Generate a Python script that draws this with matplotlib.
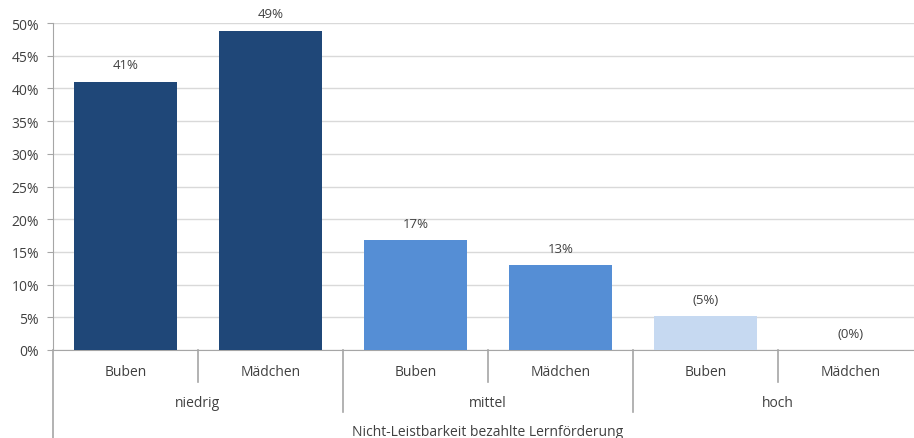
import matplotlib.pyplot as plt
import matplotlib.transforms as mtransforms
import numpy as np

plt.rcParams['font.family'] = ['Open Sans', 'DejaVu Sans']

# Daten
geschlecht = ["Buben", "Mädchen", "Buben", "Mädchen", "Buben", "Mädchen"]
gruppen = ["niedrig", "mittel", "hoch"]
werte = [41.0, 48.8, 16.8, 13.0, 5.2, 0.0]
beschriftung = ["41%", "49%", "17%", "13%", "(5%)", "(0%)"]
farben = ["#1F4778", "#1F4778", "#558ED5", "#558ED5", "#C6D9F1", "#C6D9F1"]
titel = "Nicht-Leistbarkeit bezahlte Lernförderung"

fig = plt.figure(figsize=(9.14, 4.39), dpi=100)
ax = fig.add_axes([53/914, 88/439, 870/914, 327/439])

x = np.arange(len(werte))
ax.bar(x, werte, width=0.71, color=farben, zorder=3)
ax.set_xlim(-0.5, len(werte) - 0.5)
ax.set_ylim(0, 50)
ax.set_yticks(np.arange(0, 51, 5))
ax.set_yticklabels([f"{v}%" for v in range(0, 51, 5)], fontsize=10, color="#404040")
ax.yaxis.grid(True, color="#D9D9D9", linewidth=1, zorder=0)
ax.set_xticks([])
ax.tick_params(axis='y', length=4, color="#A6A6A6", pad=6)

for s in ["top", "right"]:
    ax.spines[s].set_visible(False)
ax.spines["left"].set_color("#A6A6A6")
ax.spines["bottom"].set_color("#A6A6A6")

# Werte über den Balken
for xi, v, t in zip(x, werte, beschriftung):
    ax.text(xi, v + 1.6, t, ha='center', va='bottom', fontsize=9.5, color="#404040")

# Mehrstufige Achsenbeschriftung
trans = mtransforms.blended_transform_factory(ax.transData, ax.transAxes)
for xi, g in zip(x, geschlecht):
    ax.text(xi, -0.067, g, transform=trans, ha='center', va='center', fontsize=10, color="#404040")
for i, g in enumerate(gruppen):
    ax.text(2*i + 0.5, -0.162, g, transform=trans, ha='center', va='center', fontsize=10, color="#404040")
ax.text(2.5, -0.248, titel, transform=trans, ha='center', va='center', fontsize=10, color="#404040")

# Trennlinien
for xs in [0.5, 2.5, 4.5]:
    ax.plot([xs, xs], [0, -0.098], transform=trans, color="#A6A6A6", lw=1.2, clip_on=False)
for xs in [1.5, 3.5]:
    ax.plot([xs, xs], [0, -0.19], transform=trans, color="#A6A6A6", lw=1.2, clip_on=False)
ax.plot([-0.5, -0.5], [0, -0.3], transform=trans, color="#A6A6A6", lw=1.2, clip_on=False)

plt.savefig("out.png", dpi=100)
